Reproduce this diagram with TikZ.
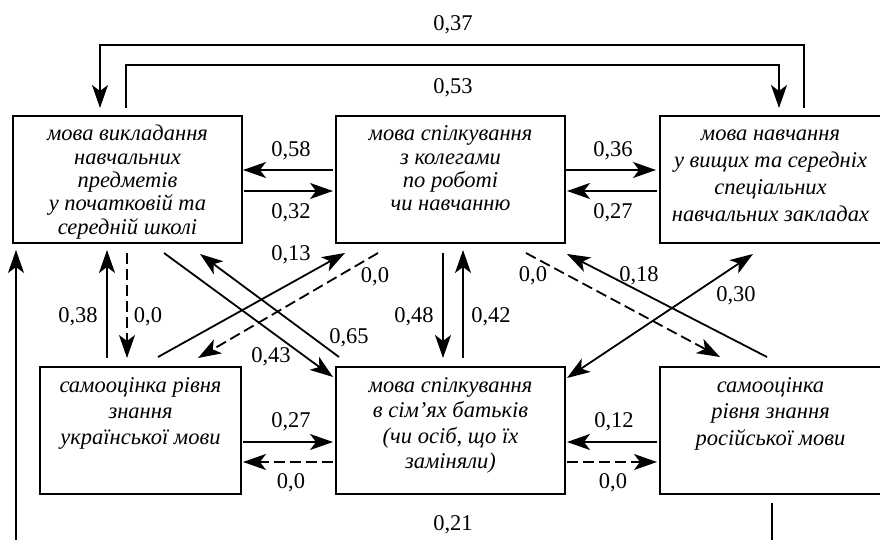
\documentclass[tikz,border=0pt]{standalone}
\usepackage{fontspec}
\setmainfont{Liberation Serif}
\usetikzlibrary{arrows.meta,calc}
\newcommand{\unittext}[3]{\parbox[c][127pt][t]{#1}{\centering\fontsize{22.5}{#2}\selectfont\itshape\vspace*{8.5pt}\rule{0pt}{16.5pt}#3}}

\begin{document}
\begin{tikzpicture}[x=1pt,y=-1pt,font=\fontsize{22.5}{25}\selectfont,line join=miter,
  unit/.style={draw=black,line width=2pt,inner sep=0pt,outer sep=0pt},
  arr/.style={line width=1.8pt,-{Stealth[length=23pt,width=16pt,inset=6pt]}},
  dbl/.style={line width=1.8pt,{Stealth[length=23pt,width=16pt,inset=6pt]}-{Stealth[length=23pt,width=16pt,inset=6pt]}},
  dsh/.style={dash pattern=on 11pt off 5pt},
  lbl/.style={inner sep=0pt}]
\useasboundingbox (0,0) rectangle (880,540);
% boxes
\node[unit] (A) at (127.5,179.5) {\unittext{229pt}{23.3pt}{мова викладання\\ навчальних\\ предметів\\ у початковій та\\ середній школі}};
\node[unit] (B) at (450.5,179.5) {\unittext{229pt}{23.3pt}{мова спілкування\\ з колегами\\ по роботі\\ чи навчанню}};
\node[unit] (C) at (770.5,179.5) {\unittext{221pt}{26.7pt}{мова навчання\\ у вищих та середніх\\ спеціальних\\ навчальних закладах}};
\node[unit] (D) at (140.5,430.5) {\unittext{201pt}{26pt}{самооцінка рівня\\ знання\\ української мови}};
\node[unit] (E) at (450.5,430.5) {\unittext{229pt}{25.5pt}{мова спілкування\\ в сім’ях батьків\\ (чи осіб, що їх\\ заміняли)}};
\node[unit] (F) at (770.5,430.5) {\unittext{221pt}{26.5pt}{самооцінка\\ рівня знання\\ російської мови}};
\coordinate (ll) at (16,540);
\coordinate (lr) at (772,540);
% loops over the top
\draw[arr] ($(C.north)+(33.5,-8)$) |- ($(A.north)+(-27.5,-71)$) -- ($(A.north)+(-27.5,-8)$);
\draw[arr] ($(A.north)+(-1.5,-8)$) |- ($(C.north)+(8.5,-51)$) -- ($(C.north)+(8.5,-8)$);
% top row
\draw[arr] ($(B.west)+(-3,-9.5)$) -- ($(A.east)+(1,-9.5)$);
\draw[arr] ($(A.east)+(2,11.5)$) -- ($(B.west)+(-3,11.5)$);
\draw[arr] ($(B.east)+(1,-9.5)$) -- ($(C.west)+(-4,-9.5)$);
\draw[arr] ($(C.west)+(-3,11.5)$) -- ($(B.east)+(2,11.5)$);
% bottom row
\draw[arr] ($(D.east)+(2,11.5)$) -- ($(E.west)+(-3,11.5)$);
\draw[arr,dsh] ($(E.west)+(-3,31.5)$) -- ($(D.east)+(2,31.5)$);
\draw[arr] ($(F.west)+(-3,11.5)$) -- ($(E.east)+(2,11.5)$);
\draw[arr,dsh] ($(E.east)+(2,31.5)$) -- ($(F.west)+(-3,31.5)$);
% verticals
\draw[arr] ($(D.north)+(-33.5,-9)$) -- ($(A.south)+(-20.5,7)$);
\draw[arr,dsh] ($(A.south)+(-0.5,10)$) -- ($(D.north)+(-13.5,-9)$);
\draw[arr] ($(B.south)+(-7.5,10)$) -- ($(E.north)+(-7.5,-9)$);
\draw[arr] ($(E.north)+(12.5,-9)$) -- ($(B.south)+(12.5,7)$);
% diagonals
\draw[arr] ($(A.south)+(36.5,10)$) -- ($(E.north west)+(-3,10)$);
\draw[arr] ($(E.north west)+(3,-10)$) -- ($(A.south east)+(-42,11)$);
\draw[arr] ($(D.north)+(17.5,-10)$) -- ($(B.south west)+(9,10)$);
\draw[arr,dsh] ($(B.south west)+(42,10)$) -- ($(D.north)+(57.5,-9)$);
\draw[arr,dsh] ($(B.south east)+(-39,10)$) -- ($(F.north)+(-50.5,-10)$);
\draw[arr] ($(F.north)+(-3.5,-10)$) -- ($(B.south east)+(2,11)$);
\draw[dbl] ($(E.north east)+(2,11)$) -- ($(C.south)+(-17.5,11)$);
% round the bottom
\draw[arr] (ll) -- ($(A.south west)+(3,7)$);
\draw[line width=1.8pt] ($(F.south)+(1.5,9)$) -- (lr);
% weights
\node[lbl] (w37) at (453,25) {0,37};
\node[lbl] (w53) at (453,88) {0,53};
\node[lbl] (w58) at (291,151) {0,58};
\node[lbl] (w32) at (291,213) {0,32};
\node[lbl] (w36) at (613,151) {0,36};
\node[lbl] (w27a) at (613,213) {0,27};
\node[lbl] (w13) at (291,255) {0,13};
\node[lbl] (w00a) at (375,277) {0,0};
\node[lbl] (w38) at (78,317) {0,38};
\node[lbl] (w00b) at (148,317) {0,0};
\node[lbl] (w65) at (349,338) {0,65};
\node[lbl] (w43) at (271,357) {0,43};
\node[lbl] (w48) at (414,317) {0,48};
\node[lbl] (w42) at (491,317) {0,42};
\node[lbl] (w00c) at (533,276) {0,0};
\node[lbl] (w18) at (639,276) {0,18};
\node[lbl] (w30) at (736,296) {0,30};
\node[lbl] (w27b) at (291,422) {0,27};
\node[lbl] (w00d) at (291,483) {0,0};
\node[lbl] (w12) at (614,422) {0,12};
\node[lbl] (w00e) at (613,483) {0,0};
\node[lbl] (w21) at (453,525) {0,21};
\end{tikzpicture}
\end{document}
